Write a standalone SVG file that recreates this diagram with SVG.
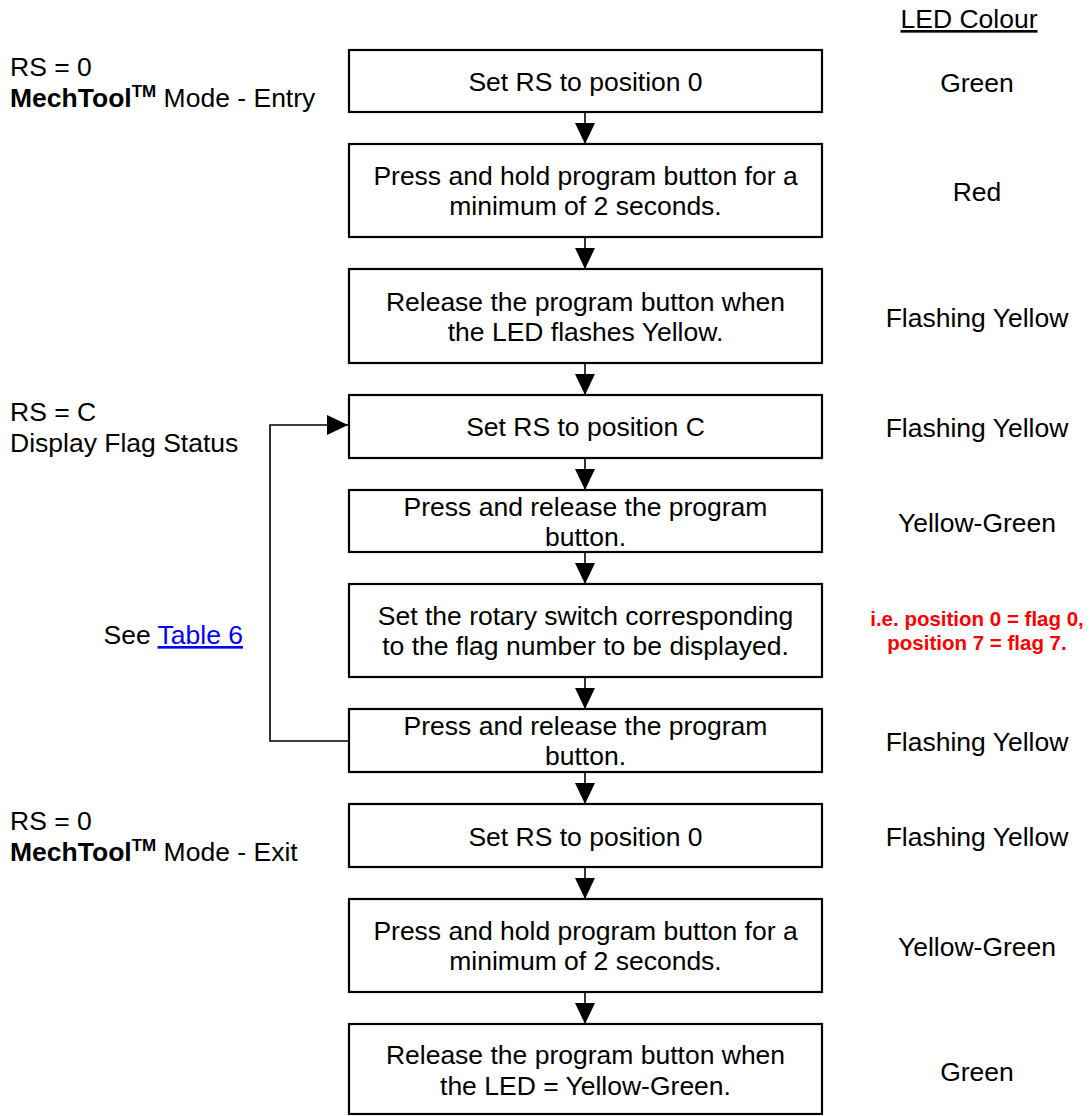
<svg xmlns="http://www.w3.org/2000/svg" width="1090" height="1116" viewBox="0 0 1090 1116">
<style>
  text { font-family: "Liberation Sans", Arial, sans-serif; font-size: 26.5px; fill: #000; }
  .box { fill: #fff; stroke: #000; stroke-width: 2.2; }
  .mid { text-anchor: middle; }
  .conn { fill: none; stroke: #000; stroke-width: 1.6; }
  .red { fill: #ff0000; font-weight: bold; font-size: 20.5px; text-anchor: middle; }
  .b { font-weight: bold; }
  .tm { font-weight: bold; font-size: 17px; }
  .link { fill: #0000ff; text-decoration: underline; }
</style>
<defs>
  <marker id="arr" markerUnits="userSpaceOnUse" markerWidth="22" markerHeight="20" refX="21" refY="10" orient="auto">
    <path d="M0,0 L21,10 L0,20 Z" fill="#000"/>
  </marker>
</defs>
<rect width="1090" height="1116" fill="#fff"/>

<g id="header">
  <text x="969" y="28" class="mid" text-decoration="underline">LED Colour</text>
</g>

<g id="label-entry">
  <text x="10" y="76">RS = 0</text>
  <text x="10" y="107"><tspan class="b">MechTool</tspan><tspan class="tm" dy="-10">TM</tspan><tspan dy="10"> Mode - Entry</tspan></text>
</g>
<g id="label-flag">
  <text x="10" y="421">RS = C</text>
  <text x="10" y="452">Display Flag Status</text>
</g>
<g id="label-table">
  <text x="243" y="644" text-anchor="end">See <tspan class="link">Table 6</tspan></text>
</g>
<g id="label-exit">
  <text x="10" y="830">RS = 0</text>
  <text x="10" y="861"><tspan class="b">MechTool</tspan><tspan class="tm" dy="-10">TM</tspan><tspan dy="10"> Mode - Exit</tspan></text>
</g>

<g id="connectors">
  <path class="conn" d="M585,112 V144" marker-end="url(#arr)"/>
  <path class="conn" d="M585,237 V269" marker-end="url(#arr)"/>
  <path class="conn" d="M585,363 V395" marker-end="url(#arr)"/>
  <path class="conn" d="M585,458 V490" marker-end="url(#arr)"/>
  <path class="conn" d="M585,552 V584" marker-end="url(#arr)"/>
  <path class="conn" d="M585,677 V709" marker-end="url(#arr)"/>
  <path class="conn" d="M585,772 V804" marker-end="url(#arr)"/>
  <path class="conn" d="M585,867 V899" marker-end="url(#arr)"/>
  <path class="conn" d="M585,992 V1024" marker-end="url(#arr)"/>
  <path class="conn" d="M349,741 H270 V425 H348" marker-end="url(#arr)"/>
</g>

<g id="step1">
  <rect class="box" x="349" y="50" width="473" height="62"/>
  <text x="585.5" y="91" class="mid">Set RS to position 0</text>
  <text x="977" y="92" class="mid">Green</text>
</g>
<g id="step2">
  <rect class="box" x="349" y="144" width="473" height="93"/>
  <text x="585.5" y="185" class="mid">Press and hold program button for a</text>
  <text x="585.5" y="215" class="mid">minimum of 2 seconds.</text>
  <text x="977" y="201" class="mid">Red</text>
</g>
<g id="step3">
  <rect class="box" x="349" y="269" width="473" height="94"/>
  <text x="585.5" y="311" class="mid">Release the program button when</text>
  <text x="585.5" y="341" class="mid">the LED flashes Yellow.</text>
  <text x="977" y="327" class="mid">Flashing Yellow</text>
</g>
<g id="step4">
  <rect class="box" x="349" y="395" width="473" height="63"/>
  <text x="585.5" y="436" class="mid">Set RS to position C</text>
  <text x="977" y="437" class="mid">Flashing Yellow</text>
</g>
<g id="step5">
  <rect class="box" x="349" y="490" width="473" height="62"/>
  <text x="585.5" y="516" class="mid">Press and release the program</text>
  <text x="585.5" y="546" class="mid">button.</text>
  <text x="977" y="532" class="mid">Yellow-Green</text>
</g>
<g id="step6">
  <rect class="box" x="349" y="584" width="473" height="93"/>
  <text x="585.5" y="625" class="mid">Set the rotary switch corresponding</text>
  <text x="585.5" y="655" class="mid">to the flag number to be displayed.</text>
  <text x="977" y="626" class="red">i.e. position 0 = flag 0,</text>
  <text x="977" y="650" class="red">position 7 = flag 7.</text>
</g>
<g id="step7">
  <rect class="box" x="349" y="709" width="473" height="63"/>
  <text x="585.5" y="735" class="mid">Press and release the program</text>
  <text x="585.5" y="765" class="mid">button.</text>
  <text x="977" y="751" class="mid">Flashing Yellow</text>
</g>
<g id="step8">
  <rect class="box" x="349" y="804" width="473" height="63"/>
  <text x="585.5" y="846" class="mid">Set RS to position 0</text>
  <text x="977" y="846" class="mid">Flashing Yellow</text>
</g>
<g id="step9">
  <rect class="box" x="349" y="899" width="473" height="93"/>
  <text x="585.5" y="940" class="mid">Press and hold program button for a</text>
  <text x="585.5" y="970" class="mid">minimum of 2 seconds.</text>
  <text x="977" y="956" class="mid">Yellow-Green</text>
</g>
<g id="step10">
  <rect class="box" x="349" y="1024" width="473" height="90"/>
  <text x="585.5" y="1064" class="mid">Release the program button when</text>
  <text x="585.5" y="1095" class="mid">the LED = Yellow-Green.</text>
  <text x="977" y="1081" class="mid">Green</text>
</g>
</svg>
